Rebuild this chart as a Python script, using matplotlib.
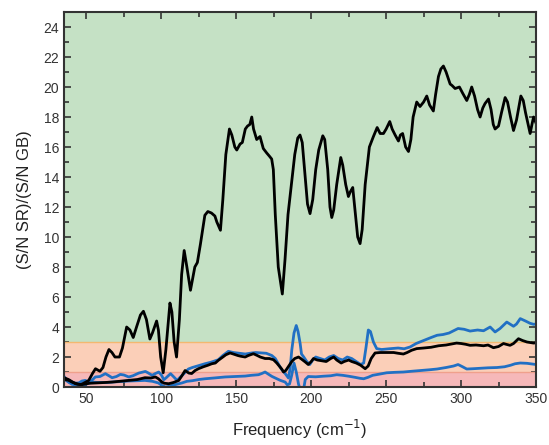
import matplotlib.pyplot as plt
from matplotlib.ticker import MultipleLocator

plt.rcParams['font.family'] = ['Liberation Sans', 'DejaVu Sans']

# main ratio curve (black, large)
f_main = [35.5, 38, 42.6, 46, 49, 51.5, 54, 56, 59, 61, 63, 65, 67, 69, 72, 74, 76.8, 79, 81.2, 83.4,
          86, 88, 90, 92.3, 94, 96.8, 98, 99.5, 101.2, 103, 105.7, 107, 108.5, 110.1, 112, 113.5, 115.2,
          117, 119.4, 121, 122.3, 124, 126, 129, 131, 133.4, 135.7, 137, 139.4, 141, 143, 145.4, 147,
          149, 150.3, 152.5, 154, 156, 157.5, 159, 160.3, 161.5, 163.6, 165.8, 168, 170.3, 172, 173.6,
          174.7, 176, 178, 180.7, 182.5, 184.5, 186.9, 189, 191, 192.5, 194, 196, 197.5, 199.2, 201,
          203, 205, 207.7, 209, 211, 212.5, 213.7, 215, 217, 219.7, 221, 223, 224.8, 226, 227.7, 229,
          231, 232.6, 234, 236, 238.8, 241.5, 244, 246, 248.2, 250, 252.4, 254, 256, 258.2, 259.5, 261,
          263, 264.9, 266.5, 268, 270.4, 272.6, 275, 277.1, 279, 281.5, 283, 284.9, 286.5, 288.2, 290,
          292.7, 294, 296, 298.9, 301, 303.8, 305.5, 307.1, 309, 311, 312.7, 314.5, 316, 318.3, 320,
          321.5, 322.7, 325, 327, 329.4, 331, 333, 335, 337, 339.9, 341.5, 343, 345, 346.1, 347.5,
          348.4, 350]
v_main = [0.6, 0.5, 0.22, 0.15, 0.3, 0.44, 0.9, 1.22, 1.05, 1.3, 2.0, 2.5, 2.3, 2.0, 2.0, 2.6, 4.0, 3.8,
          3.3, 4.0, 4.8, 5.05, 4.5, 3.2, 3.6, 4.4, 3.8, 2.0, 0.95, 2.5, 5.6, 5.0, 3.0, 2.0, 4.5, 7.5,
          9.1, 8.0, 6.45, 7.3, 8.0, 8.3, 9.5, 11.45, 11.7, 11.6, 11.4, 11.0, 10.45, 12.5, 15.5, 17.2,
          16.8, 16.0, 15.8, 16.2, 16.3, 17.2, 17.4, 17.5, 18.0, 17.2, 16.5, 16.7, 15.9, 15.6, 15.4,
          15.2, 14.5, 11.5, 8.0, 6.2, 8.5, 11.5, 13.6, 15.5, 16.6, 16.8, 16.3, 14.0, 12.2, 11.56, 12.5,
          14.5, 15.8, 16.75, 16.5, 14.5, 12.0, 11.3, 11.8, 13.5, 15.3, 14.8, 13.5, 12.7, 13.0, 13.3,
          12.0, 10.0, 9.56, 10.5, 13.5, 16.0, 16.7, 17.3, 16.9, 16.9, 17.2, 17.7, 17.2, 16.8, 16.4,
          16.8, 16.9, 16.0, 15.7, 16.5, 18.0, 19.0, 18.7, 19.0, 19.4, 18.8, 18.4, 19.5, 20.7, 21.2,
          21.4, 21.0, 20.2, 20.1, 19.9, 20.0, 19.6, 19.1, 19.5, 20.0, 19.4, 18.5, 18.0, 18.6, 18.9,
          19.2, 18.5, 17.5, 17.2, 17.4, 18.3, 19.3, 19.0, 18.0, 17.1, 17.8, 19.4, 19.1, 18.3, 17.4,
          16.9, 17.6, 18.0, 17.6]

# low black curve
f_low = [35, 38, 40.3, 44, 47, 52, 56, 62, 67, 72, 78, 84, 89, 93, 96, 98, 100.4, 102, 104.9, 108,
         111.6, 114, 115.8, 118.3, 120.2, 122.5, 124.7, 128, 131, 133.6, 136, 138, 141, 143, 145.8,
         148, 151, 153, 155.9, 158, 161.4, 164, 166, 169.2, 172, 174.8, 177, 180.3, 181.5, 183, 185,
         187, 189, 191.5, 193, 196, 198, 200, 201.5, 204, 207, 210, 213, 215, 217, 220, 222, 225, 227,
         230, 233, 236, 238, 240, 242.6, 246, 250, 255, 258, 261.5, 264, 267, 270.4, 275, 280, 285,
         290, 297, 300, 303, 306, 310, 315, 318, 321.6, 325, 328.3, 330, 332.7, 335, 338.3, 341, 344,
         348.4, 350]
v_low = [0.5, 0.45, 0.33, 0.2, 0.16, 0.25, 0.27, 0.3, 0.33, 0.38, 0.44, 0.5, 0.62, 0.6, 0.67, 0.55,
         0.33, 0.25, 0.22, 0.3, 0.44, 0.8, 1.1, 0.93, 0.9, 1.1, 1.22, 1.35, 1.45, 1.55, 1.6, 1.78, 2.0,
         2.15, 2.27, 2.2, 2.1, 2.05, 2.0, 2.1, 2.22, 2.1, 2.0, 1.9, 1.9, 1.82, 1.6, 1.2, 1.0, 1.1, 1.4,
         1.7, 1.9, 2.0, 1.9, 1.67, 1.5, 1.7, 1.9, 1.8, 1.75, 1.7, 1.9, 2.0, 1.8, 1.6, 1.7, 1.8, 1.7,
         1.6, 1.45, 1.22, 1.4, 1.9, 2.27, 2.3, 2.3, 2.3, 2.25, 2.2, 2.3, 2.45, 2.56, 2.6, 2.65, 2.75,
         2.8, 2.93, 2.9, 2.85, 2.78, 2.8, 2.75, 2.8, 2.62, 2.7, 2.9, 2.85, 2.78, 2.9, 3.22, 3.1, 3.0,
         2.93, 2.95]

# upper blue curve
f_bu = [35, 38, 41, 44.8, 47, 49.2, 52, 55.9, 59, 62.6, 65, 67.1, 70, 72.6, 75, 78.2, 81, 84.9, 89.3,
        91, 93.8, 96, 98.2, 100, 101.6, 103, 106.1, 108, 110.5, 112, 115, 118, 120.6, 124, 129, 133,
        138, 141, 144.7, 148, 152, 156, 160.3, 163, 167, 170, 173.7, 176, 178, 180, 182.6, 184.8, 186,
        187, 188.5, 190, 191.2, 192.6, 193.5, 195, 197, 199, 201, 203, 206, 209, 212, 215, 218, 221,
        224, 227, 230, 233, 235, 236.5, 238.1, 239.5, 241.5, 243.7, 247, 252, 258, 262, 266, 270, 275,
        280, 284, 288, 292, 298, 302, 306, 311, 315, 319.4, 322.7, 326, 330.5, 335, 337, 339.5, 343,
        346, 348.4, 350]
v_bu = [0.7, 0.33, 0.25, 0.27, 0.4, 0.44, 0.3, 0.67, 0.7, 0.89, 0.75, 0.62, 0.7, 0.84, 0.8, 0.67, 0.75,
        0.93, 1.04, 0.95, 0.78, 0.9, 1.0, 0.8, 0.49, 0.6, 0.89, 0.7, 0.44, 0.6, 0.89, 1.2, 1.3, 1.4,
        1.55, 1.65, 1.82, 2.1, 2.38, 2.3, 2.25, 2.2, 2.27, 2.3, 2.27, 2.25, 2.1, 1.9, 1.55, 1.2, 0.9,
        0.6, 1.3, 2.45, 3.6, 4.1, 3.7, 2.9, 2.2, 2.0, 1.7, 1.5, 1.8, 2.0, 1.9, 1.8, 2.0, 2.1, 1.9, 1.8,
        2.0, 1.9, 1.7, 1.5, 1.6, 2.6, 3.8, 3.7, 3.0, 2.56, 2.5, 2.55, 2.6, 2.55, 2.67, 2.9, 3.1, 3.3,
        3.45, 3.5, 3.6, 3.9, 3.85, 3.73, 3.8, 3.75, 4.0, 3.67, 3.9, 4.33, 4.05, 4.2, 4.56, 4.4, 4.25,
        4.18, 4.2]

# lower blue curve
f_bl = [35, 37, 40.3, 44, 47, 50, 53.7, 58, 63, 67, 72, 78, 84, 89, 94, 98, 100.5, 102.7, 105, 107,
        110, 113.7, 117, 120.6, 125, 129.2, 135, 142.5, 149, 155.9, 160, 164.8, 167, 169.2, 171.5,
        173.7, 176, 179.2, 182.6, 184, 185.5, 187, 188.5, 190, 191.5, 193, 194.5, 196, 198, 203, 208,
        213, 217, 221, 225, 229, 232.6, 235, 238, 241, 245, 250.4, 256, 261.5, 267, 273, 279, 284,
        290, 295, 298, 301, 303.8, 308, 313, 318, 324, 329, 333, 336, 339.5, 344, 350]
v_bl = [0.55, 0.4, 0.18, 0.12, 0.11, 0.2, 0.33, 0.3, 0.3, 0.33, 0.36, 0.4, 0.42, 0.44, 0.38, 0.27, 0.1,
        0.0, 0.05, 0.11, 0.18, 0.27, 0.38, 0.42, 0.5, 0.55, 0.6, 0.67, 0.7, 0.73, 0.78, 0.82, 0.9, 1.0,
        0.85, 0.71, 0.6, 0.45, 0.33, 0.15, 0.2, 0.8, 1.6, 1.0, 0.2, -0.3, -0.4, 0.5, 0.7, 0.68, 0.72,
        0.75, 0.82, 0.78, 0.72, 0.65, 0.58, 0.55, 0.65, 0.78, 0.85, 0.95, 0.98, 1.0, 1.05, 1.1, 1.15,
        1.2, 1.3, 1.4, 1.5, 1.35, 1.2, 1.22, 1.25, 1.28, 1.3, 1.35, 1.45, 1.55, 1.6, 1.58, 1.5]

fig = plt.figure(figsize=(5.49, 4.45), dpi=100)
ax = fig.add_axes([0.1166, 0.1303, 0.8597, 0.8427])

# background bands
ax.axhspan(3, 25, color='#c5e1c5', lw=0)
ax.axhspan(1, 3, color='#fbcfb8', lw=0)
ax.axhspan(0, 1, color='#f6b8b9', lw=0)
ax.axhline(3, color='#f4b870', lw=1)
ax.axhline(1, color='#f0a08c', lw=1)

blue = '#2170c4'
ax.plot(f_bl, v_bl, color=blue, lw=2)
ax.plot(f_bu, v_bu, color=blue, lw=2)
ax.plot(f_low, v_low, color='black', lw=2)
ax.plot(f_main, v_main, color='black', lw=2)

ax.set_xlim(35, 350)
ax.set_ylim(0, 25)
ax.xaxis.set_major_locator(MultipleLocator(50))
ax.xaxis.set_minor_locator(MultipleLocator(25))
ax.yaxis.set_major_locator(MultipleLocator(2))
ax.yaxis.set_minor_locator(MultipleLocator(1))
ax.tick_params(which='both', direction='in', top=True, right=True, width=1.2,
               color='#333333', labelcolor='#333333', labelsize=10)
ax.tick_params(which='major', length=5)
ax.tick_params(which='minor', length=3.5)
for s in ax.spines.values():
    s.set_linewidth(1.5)
    s.set_color('#333333')

ax.set_xlabel('Frequency (cm$^{-1}$)', fontsize=12, color='#222222', labelpad=9)
ax.set_ylabel('(S/N SR)/(S/N GB)', fontsize=12, color='#222222', labelpad=8)

fig.savefig('out.png', dpi=100)
